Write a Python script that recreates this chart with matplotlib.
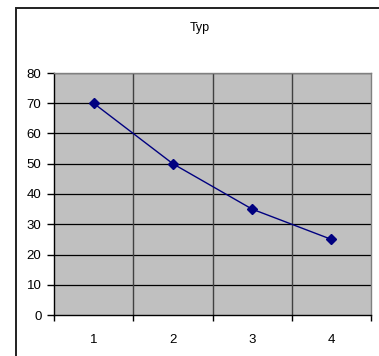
import matplotlib.pyplot as plt
from matplotlib.patches import Rectangle
from matplotlib.ticker import FixedLocator

plt.rcParams['font.family'] = ['Liberation Sans', 'DejaVu Sans']

categories = [1, 2, 3, 4]
values = [70, 50, 35, 25]
y_ticks = [0, 10, 20, 30, 40, 50, 60, 70, 80]

fig = plt.figure(figsize=(3.79, 3.56), dpi=100)
fig.patch.set_facecolor('white')

# frame of the chart object (only top and left edges are in view)
fig.patches.append(Rectangle((16 / 379, -0.2), 1.0, 1.2 - 8 / 356,
                             transform=fig.transFigure, fill=False,
                             edgecolor='#202020', linewidth=1.4))
# heading above the chart, mostly outside the page
fig.text(175 / 379, 1.0 + 11 / 356, 'Typ', ha='center', va='center',
         fontsize=16, fontweight='bold')
fig.text(200 / 379, 1 - 28 / 356, 'Typ', ha='center', va='center', fontsize=9)

ax = fig.add_axes([54 / 379, 41 / 356, 317 / 379, 242 / 356])
ax.set_facecolor('#c0c0c0')

ax.plot(categories, values, color='#000080', linewidth=1.0,
        marker='D', markersize=5.5, markerfacecolor='#000080',
        markeredgecolor='#000080', zorder=3)

ax.set_xlim(0.5, 4.5)
ax.set_ylim(0, 80)
ax.set_yticks(y_ticks)
ax.set_xticks(categories)
ax.xaxis.set_minor_locator(FixedLocator([0.5, 1.5, 2.5, 3.5, 4.5]))

for y in y_ticks[1:]:
    ax.axhline(y, color='black', linewidth=0.9, zorder=1)
for x in [1.5, 2.5, 3.5]:
    ax.axvline(x, color='#404040', linewidth=1.0, zorder=1)

ax.tick_params(axis='x', which='major', length=0, pad=14, labelsize=9.5)
ax.tick_params(axis='x', which='minor', length=4, width=1, color='black')
ax.tick_params(axis='y', length=5, width=1, color='black', pad=4, labelsize=9.5)

ax.spines['left'].set_color('black')
ax.spines['bottom'].set_color('black')
ax.spines['top'].set_color('#808080')
ax.spines['right'].set_color('#808080')
for s in ax.spines.values():
    s.set_linewidth(1.0)

plt.savefig('out.png', dpi=100)
